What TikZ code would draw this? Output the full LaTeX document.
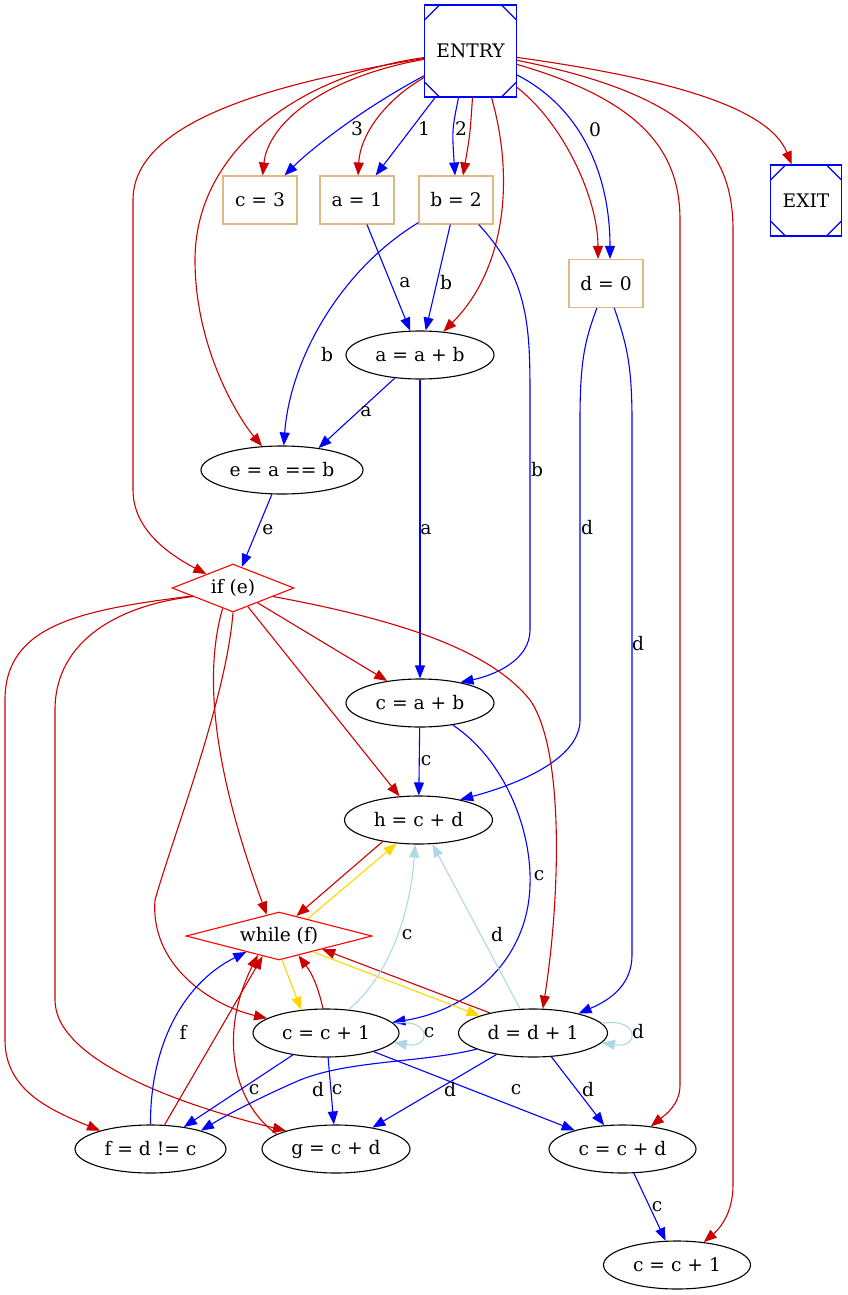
\documentclass[tikz,border=0pt]{standalone}
\usepackage{fontspec}
\setmainfont{DejaVu Serif}
\usetikzlibrary{arrows.meta,shapes.geometric}
\definecolor{rojo}{RGB}{205,0,0}
\definecolor{rombo}{RGB}{255,0,0}
\definecolor{oro}{RGB}{255,215,0}
\definecolor{celeste}{RGB}{173,216,230}
\definecolor{madera}{RGB}{222,184,135}

\begin{document}
\begin{tikzpicture}[x=1pt, y=-1pt, line width=1.1pt, >={Triangle[length=13pt,width=10pt]},
    every node/.style={font=\fontsize{18.67}{22}\selectfont}]
    \useasboundingbox (0,0) rectangle (847,1295);

    % --- ESTILOS ---
    \tikzset{msq/.style={draw=blue, rectangle, inner sep=0pt,
        path picture={
          \draw[blue] ([xshift=15pt]path picture bounding box.north west) -- ([yshift=-15pt]path picture bounding box.north west)
                      ([xshift=-15pt]path picture bounding box.north east) -- ([yshift=-15pt]path picture bounding box.north east)
                      ([xshift=15pt]path picture bounding box.south west) -- ([yshift=15pt]path picture bounding box.south west)
                      ([xshift=-15pt]path picture bounding box.south east) -- ([yshift=15pt]path picture bounding box.south east);
        }},
      caja/.style={draw=madera, rectangle, minimum width=74pt, minimum height=48pt},
      elip/.style={draw=black, ellipse, inner sep=1pt, minimum width=148pt, minimum height=48pt},
      cond/.style={draw=rombo, diamond, aspect=3, inner sep=0pt, minimum height=48pt},
      flujo/.style={draw=rojo, ->},
      dato/.style={draw=blue, ->},
      ret/.style={draw=oro, ->},
      dep/.style={draw=celeste, ->},
      lbl/.style={inner sep=0pt}}

    % --- NODOS ---
    \node[msq, minimum size=92pt] (entry) at (470.5,51) {ENTRY};
    \node[msq, minimum size=71pt] (exit) at (806,200.5) {EXIT};

    \node[caja] (c3) at (260,200) {c = 3};
    \node[caja] (a1) at (357,200) {a = 1};
    \node[caja] (b2) at (456,200) {b = 2};
    \node[caja] (d0) at (606,283.5) {d = 0};

    \node[elip] (aab) at (420,355) {a = a + b};
    \node[elip, minimum width=162pt] (eab) at (282,470) {e = a == b};
    \node[cond, minimum width=122pt] (ife) at (233,588) {if (e)};
    \node[elip] (cab) at (420,703) {c = a + b};
    \node[elip] (hcd) at (418.5,820) {h = c + d};
    \node[cond, minimum width=186pt] (whf) at (279,936) {while (f)};
    \node[elip, minimum width=146pt] (cc1) at (326,1033) {c = c + 1};
    \node[elip, minimum width=149pt] (dd1) at (533,1033) {d = d + 1};
    \node[elip, minimum width=151pt] (fdc) at (150.5,1149) {f = d != c};
    \node[elip] (gcd) at (336,1149) {g = c + d};
    \node[elip, minimum width=147pt] (ccd) at (622.5,1149) {c = c + d};
    \node[elip, minimum width=147pt] (cc1b) at (677,1265) {c = c + 1};

    % --- FLUJO DE CONTROL desde ENTRY ---
    \draw[flujo] (entry) .. controls (320,78) and (268,125) .. (c3);
    \draw[flujo] (entry) .. controls (385,100) and (360,135) .. (a1);
    \draw[flujo] ([xshift=2pt]entry.south) .. controls (470,135) .. ([xshift=7pt]b2.north);
    \draw[flujo] ([xshift=21pt]entry.south) .. controls (515,180) and (505,270) .. (aab);
    \draw[flujo] (entry) .. controls (565,125) and (598,200) .. ([xshift=-8pt]d0.north);
    \draw[flujo] (entry) .. controls (680,80) and (770,110) .. (exit);
    \draw[flujo] (entry) .. controls (690,95) and (733,150) .. (733,230) -- (733,1185)
        .. controls (733,1215) and (718,1230) .. (cc1b);
    \draw[flujo] (entry) .. controls (640,100) and (680,150) .. (680,220) -- (680,1085)
        .. controls (680,1105) and (665,1115) .. (ccd);
    \draw[flujo] (entry) .. controls (300,75) and (195,150) .. (195,260)
        .. controls (195,350) and (240,420) .. (eab);
    \draw[flujo] (entry) .. controls (260,85) and (133,125) .. (133,200) -- (133,490)
        .. controls (133,530) and (170,555) .. (ife);

    % --- DATOS desde ENTRY y constantes ---
    \draw[dato] (entry) .. controls (360,110) and (310,150) .. (c3) node[lbl] at (357,129) {3};
    \draw[dato] (entry) -- (a1) node[lbl] at (424,129) {1};
    \draw[dato] ([xshift=-12pt]entry.south) .. controls (452,130) .. ([xshift=-1pt]b2.north) node[lbl] at (461,129) {2};
    \draw[dato] (entry) .. controls (585,110) and (610,180) .. ([xshift=4pt]d0.north) node[lbl] at (595,130) {0};

    \draw[dato] (a1) -- (aab) node[lbl] at (405,283) {a};
    \draw[dato] (b2) -- (aab) node[lbl] at (446,283) {b};
    \draw[dato] (b2) .. controls (340,270) and (290,360) .. (eab) node[lbl] at (327,355) {b};
    \draw[dato] (b2) .. controls (530,280) and (530,330) .. (530,400) -- (530,630)
        .. controls (530,660) and (495,675) .. (cab.27) node[lbl] at (537,470) {b};
    \draw[dato] (d0) .. controls (585,340) and (580,360) .. (580,420) -- (580,720)
        .. controls (580,760) and (515,785) .. (hcd.26) node[lbl] at (587,528) {d};
    \draw[dato] (d0) .. controls (625,340) and (632,360) .. (632,420) -- (632,955)
        .. controls (632,985) and (610,1000) .. (dd1) node[lbl] at (638,644) {d};

    \draw[dato] (aab) -- (eab.31) node[lbl] at (366,412) {a};
    \draw[dato] (aab) -- (cab) node[lbl] at (426,530) {a};
    \draw[dato] (eab) -- (ife) node[lbl] at (268,530) {e};
    \draw[dato] (cab) -- (hcd) node[lbl] at (426,761) {c};
    \draw[dato] (cab) .. controls (505,760) and (532,830) .. (530,885)
        .. controls (528,960) and (470,1010) .. (cc1) node[lbl] at (539,876) {c};

    % --- FLUJO DE CONTROL desde if (e) ---
    \draw[flujo] (ife) -- (cab.146);
    \draw[flujo] (ife) -- (hcd);
    \draw[flujo] (ife.-117) .. controls (205,670) and (210,760) .. (whf.120);
    \draw[flujo] (ife.south) .. controls (226,700) and (175,830) .. (155,900)
        .. controls (150,965) and (210,1005) .. (cc1.166);
    \draw[flujo] (ife.-12) .. controls (400,620) and (490,650) .. (530,700)
        .. controls (565,750) and (560,900) .. (dd1.68);
    \draw[flujo] (ife.-169) .. controls (80,610) and (5,625) .. (5,700) -- (5,1040)
        .. controls (5,1090) and (50,1110) .. (fdc.160);
    \draw[flujo] (ife.-168) .. controls (120,605) and (55,640) .. (55,710) -- (55,1000)
        .. controls (55,1060) and (180,1105) .. (gcd.160);

    % --- BUCLE while (f) ---
    \draw[flujo] (hcd.-149) -- (whf.49);
    \draw[ret] (whf.31) -- (hcd.-133);
    \draw[ret] (whf.-83) -- (cc1.137);
    \draw[flujo] (cc1.97) to[bend right=12] (whf.-45);
    \draw[ret] (whf.-25) -- (dd1.162);
    \draw[flujo] (dd1.155) -- (whf.-17);
    \draw[dato] (fdc.north) .. controls (150,1050) and (180,985) .. (whf.-154) node[lbl] at (183,1032) {f};
    \draw[flujo] (fdc) -- (whf.-129);
    \draw[flujo] (gcd.166) .. controls (230,1100) and (220,1030) .. (whf.-138);

    % --- DEPENDENCIAS (celeste) ---
    \draw[dep] (cc1.46) .. controls (385,980) and (410,920) .. (hcd.-98) node[lbl] at (407,935) {c};
    \draw[dep] (dd1.118) -- (hcd.-60) node[lbl] at (497,935) {d};
    \draw[dep] (cc1.8) .. controls (432,1017) and (432,1049) .. (cc1.-8) node[lbl] at (429,1033) {c};
    \draw[dep] (dd1.8) .. controls (640,1017) and (640,1049) .. (dd1.-8) node[lbl] at (638,1032) {d};

    % --- DATOS de c = c + 1 y d = d + 1 ---
    \draw[dato] (cc1) -- (fdc) node[lbl] at (254,1090) {c};
    \draw[dato] (cc1) -- (gcd) node[lbl] at (337,1090) {c};
    \draw[dato] (cc1) -- (ccd) node[lbl] at (516,1090) {c};
    \draw[dato] (dd1) -- (ccd) node[lbl] at (588,1090) {d};
    \draw[dato] (dd1) -- (gcd) node[lbl] at (450,1090) {d};
    \draw[dato] (dd1.-164) .. controls (420,1063) and (350,1060) .. (300,1080)
        .. controls (270,1093) and (235,1110) .. (fdc.20) node[lbl] at (318,1090) {d};
    \draw[dato] (ccd) -- (cc1b) node[lbl] at (657,1207) {c};

\end{tikzpicture}
\end{document}
